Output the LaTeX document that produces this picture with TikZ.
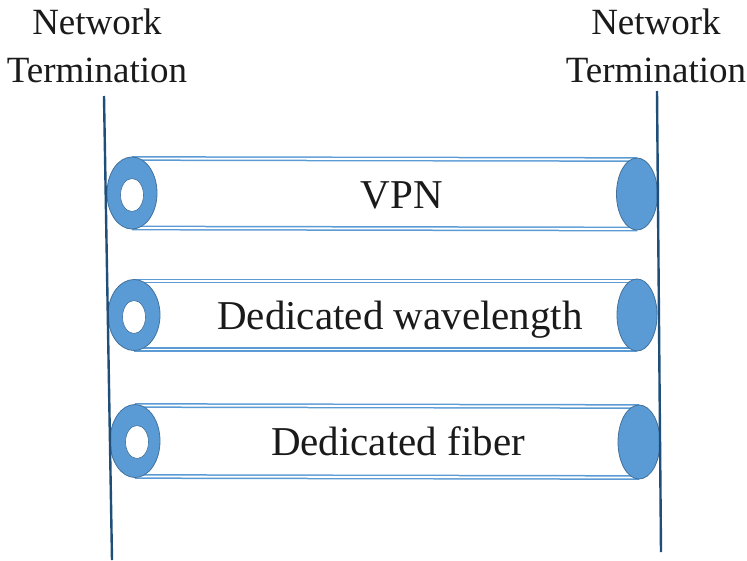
\documentclass[tikz,border=0pt]{standalone}
\usepackage{fontspec}
\setmainfont{Liberation Serif}
\usetikzlibrary{shapes.geometric}
\definecolor{facefill}{HTML}{5B9BD5}
\definecolor{faceedge}{HTML}{41719C}
\definecolor{tubeblue}{HTML}{5B9BD5}
\definecolor{poleblue}{HTML}{1F4E79}
\definecolor{txt}{HTML}{1A1A1A}
\tikzset{
  face/.style={ellipse, fill=facefill, draw=faceedge, line width=0.8pt, inner sep=0pt},
  hole/.style={ellipse, fill=white, draw=faceedge, line width=0.6pt, inner sep=0pt, minimum width=23pt, minimum height=33pt},
  tube/.style={draw=tubeblue, line width=1.5pt, double=white, double distance=1.8pt},
  pole/.style={draw=poleblue, line width=2.4pt},
  head/.style={align=center, text=txt, font=\fontsize{37}{48}\selectfont, inner sep=0pt},
  lab/.style={anchor=base, text=txt, font=\fontsize{41}{48}\selectfont, inner sep=0pt}
}
\begin{document}
\begin{tikzpicture}[x=1pt,y=-1pt]
\useasboundingbox (0,0) rectangle (747,560);
% headers (base anchor = last line's baseline)
\node[head, anchor=base] (hl) at (97,82) {Network\\Termination};
\node[head, anchor=base] (hr) at (656,82) {Network\\Termination};
% tube end positions
\coordinate (l1) at (132,193);
\coordinate (r1) at (637,194);
\coordinate (l2) at (134,315);
\coordinate (r2) at (637,315);
\coordinate (l3) at (135,441);
\coordinate (r3) at (639,442);
% tubes
\path[tube] ([yshift=-35pt]l1) -- ([yshift=-35pt]r1) ([yshift=34.5pt]l1) -- ([yshift=34.5pt]r1);
\path[tube] ([yshift=-34.5pt]l2) -- ([yshift=-34.5pt]r2) ([yshift=34pt]l2) -- ([yshift=34pt]r2);
\path[tube] ([yshift=-35.5pt]l3) -- ([yshift=-35.5pt]r3) ([yshift=35.5pt]l3) -- ([yshift=35.5pt]r3);
% faces
\node[face, minimum width=50pt, minimum height=72pt] (fl1) at (l1) {};
\node[face, minimum width=41pt, minimum height=72pt] (fr1) at (r1) {};
\node[face, minimum width=52pt, minimum height=71pt] (fl2) at (l2) {};
\node[face, minimum width=40pt, minimum height=72pt] (fr2) at (r2) {};
\node[face, minimum width=50pt, minimum height=73pt] (fl3) at (l3) {};
\node[face, minimum width=42pt, minimum height=74pt] (fr3) at (r3) {};
% holes
\node[hole] (h1) at (132,195) {};
\node[hole] (h2) at (134,317) {};
\node[hole] (h3) at (137,442) {};
% labels
\node[lab] (t1) at (402,208) {VPN};
\node[lab] (t2) at (400,329) {Dedicated wavelength};
\node[lab] (t3) at (398,455) {Dedicated fiber};
% network termination poles
\coordinate (plt) at (104,96);
\coordinate (plb) at (112,560);
\coordinate (prt) at (657,91);
\coordinate (prb) at (661,552);
\draw[pole] (plt) -- (plb);
\draw[pole] (prt) -- (prb);
\end{tikzpicture}
\end{document}
